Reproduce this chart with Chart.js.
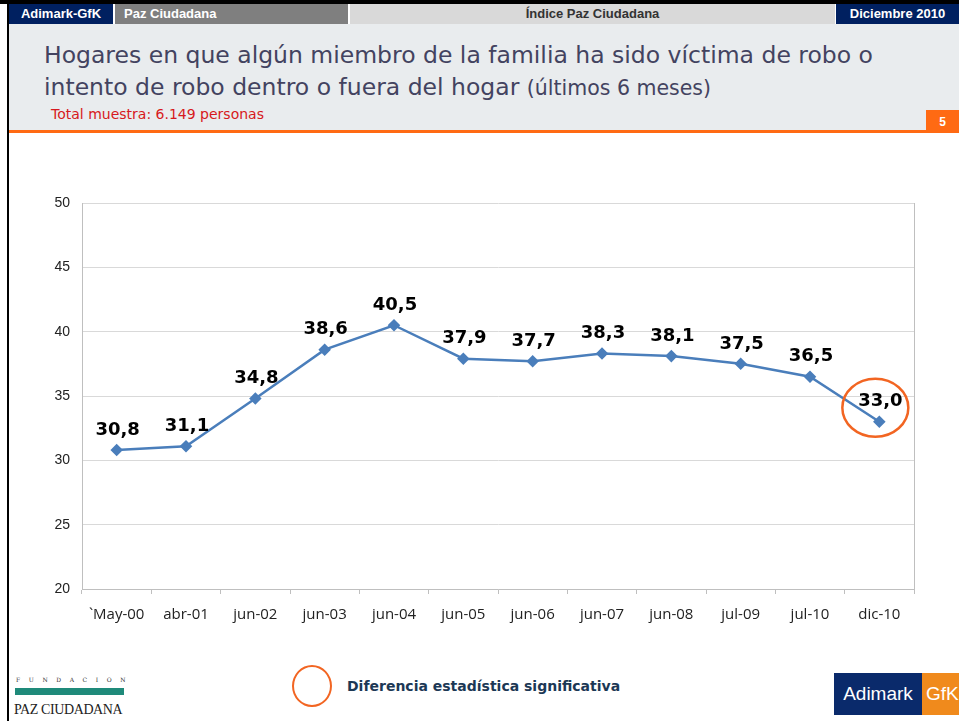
<!DOCTYPE html>
<html>
<head>
<meta charset="utf-8">
<script src="https://cdn.jsdelivr.net/npm/chart.js@4"></script>
<style>
  body { margin: 0; width: 959px; height: 721px; background: #fff; position: relative; overflow: hidden; font-family: "Liberation Sans", Arial, sans-serif; }
  .abs { position: absolute; }
  #topline { left: 0; top: 0; width: 959px; height: 4px; background: #000; }
  #leftline { left: 7px; top: 0; width: 2px; height: 721px; background: #000; }
  .hdr { top: 4px; height: 20px; line-height: 20px; font-size: 13px; font-weight: bold; }
  #band { left: 9px; top: 24px; width: 950px; height: 106px; background: #e9ecee; }
  #orange { left: 9px; top: 130px; width: 950px; height: 3px; background: #ff6a13; }
  #title { left: 44px; top: 39px; font-family: "DejaVu Sans", sans-serif; font-size: 23.5px; color: #434360; line-height: 32px; }
  #title small { font-size: 20.5px; }
  #sub { left: 51px; top: 106px; font-family: "DejaVu Sans", sans-serif; font-size: 14px; color: #d71920; }
  #pg { left: 926px; top: 110px; width: 33px; height: 23px; background: #ff6a13; color: #fff; font-weight: bold; font-size: 12px; text-align: center; line-height: 24px; }
  #chartbox { left: 10px; top: 140px; width: 949px; height: 505px; }
  #legcirc { left: 292px; top: 665px; width: 40px; height: 42px; border: 2.5px solid #f26522; border-radius: 50%; box-sizing: border-box; }
  #legtxt { left: 347px; top: 678px; font-family: "DejaVu Sans", sans-serif; font-size: 14px; font-weight: bold; color: #1c3855; }
</style>
</head>
<body>
<div class="abs" id="topline"></div>
<div class="abs" id="leftline"></div>
<div class="abs hdr" style="left:9px;width:104px;background:#002060;color:#fff;text-align:center;">Adimark-GfK</div>
<div class="abs hdr" style="left:115px;width:233px;background:#7f7f7f;color:#fff;padding-left:9px;box-sizing:border-box;">Paz Ciudadana</div>
<div class="abs hdr" style="left:350px;width:485px;background:#d9d9d9;color:#333;text-align:center;">Índice Paz Ciudadana</div>
<div class="abs hdr" style="left:836px;width:123px;background:#002060;color:#fff;text-align:center;">Diciembre 2010</div>
<div class="abs" id="band"></div>
<div class="abs" id="orange"></div>
<div class="abs" id="title">Hogares en que algún miembro de la familia ha sido víctima de robo o<br>intento de robo dentro o fuera del hogar <small>(últimos 6 meses)</small></div>
<div class="abs" id="sub">Total muestra: 6.149 personas</div>
<div class="abs" id="pg">5</div>
<div class="abs" id="chartbox"><canvas id="grafico" width="949" height="505"></canvas></div>
<div class="abs" id="legcirc"></div>
<div class="abs" id="legtxt">Diferencia estadística significativa</div>

<!-- logos -->
<div class="abs" style="left:16px;top:676px;width:112px;font-family:'DejaVu Serif',serif;font-size:6px;letter-spacing:8.6px;color:#333;">FUNDACION</div>
<div class="abs" style="left:15px;top:688px;width:109px;height:7px;background:#1f8a7a;"></div>
<div class="abs" style="left:14px;top:702px;font-family:'Liberation Serif',serif;font-size:14px;color:#222;letter-spacing:-0.4px;">PAZ CIUDADANA</div>
<div class="abs" style="left:834px;top:673px;width:88px;height:42px;background:#0a2a6b;color:#fff;font-size:19px;line-height:42px;text-align:center;">Adimark</div>
<div class="abs" style="left:922px;top:673px;width:37px;height:42px;background:#f08a1c;color:#fff;font-size:19px;line-height:42px;padding-left:4px;box-sizing:border-box;">GfK</div>

<script>
const meses = ["`May-00", "abr-01", "jun-02", "jun-03", "jun-04", "jun-05", "jun-06", "jun-07", "jun-08", "jul-09", "jul-10", "dic-10"];
const victimas = [30.8, 31.1, 34.8, 38.6, 40.5, 37.9, 37.7, 38.3, 38.1, 37.5, 36.5, 33.0];
const yTicks = [20, 25, 30, 35, 40, 45, 50];
const significativos = [11]; // index of points with significant difference

const ctx = document.getElementById("grafico").getContext("2d");

// value labels above each point + orange circle on significant ones
const etiquetas = {
  id: "etiquetas",
  afterDatasetsDraw(chart) {
    const { ctx } = chart;
    const meta = chart.getDatasetMeta(0);
    ctx.save();
    ctx.font = "bold 18px 'DejaVu Sans', sans-serif";
    ctx.fillStyle = "#000";
    ctx.textAlign = "center";
    ctx.textBaseline = "middle";
    meta.data.forEach((pt, i) => {
      const txt = victimas[i].toFixed(1).replace(".", ",");
      ctx.fillText(txt, pt.x + 1, pt.y - 20);
    });
    significativos.forEach((i) => {
      const pt = meta.data[i];
      ctx.beginPath();
      ctx.ellipse(pt.x - 4, pt.y - 14, 33, 29, 0, 0, Math.PI * 2);
      ctx.strokeStyle = "#f26522";
      ctx.lineWidth = 2.5;
      ctx.stroke();
    });
    ctx.restore();
  },
};

const grafico = new Chart(ctx, {
  type: "line",
  data: {
    labels: meses,
    datasets: [
      {
        data: victimas,
        borderColor: "#4a7ebb",
        backgroundColor: "#4a7ebb",
        borderWidth: 2.5,
        pointStyle: "rectRot",
        pointRadius: 4.5,
        pointBackgroundColor: "#4a7ebb",
        pointBorderColor: "#4a7ebb",
        tension: 0,
        fill: false,
      },
    ],
  },
  options: {
    responsive: false,
    animation: false,
    layout: { padding: { top: 63, right: 45, bottom: 0, left: 0 } },
    plugins: {
      legend: { display: false },
      tooltip: { enabled: false },
    },
    scales: {
      x: {
        offset: true,
        grid: { offset: true, drawOnChartArea: false, tickLength: 5, color: "#bfbfbf" },
        border: { color: "#bfbfbf" },
        ticks: { color: "#222", padding: 12, font: { family: "'Open Sans', sans-serif", size: 15 } },
        afterFit(scale) { scale.height = 56; },
      },
      y: {
        min: 20,
        max: 50,
        afterBuildTicks(scale) { scale.ticks = yTicks.map((v) => ({ value: v })); },
        grid: { color: "#d9d9d9", drawTicks: false },
        border: { color: "#bfbfbf" },
        ticks: { color: "#222", padding: 12, font: { family: "'Liberation Sans', Arial, sans-serif", size: 14 } },
        afterFit(scale) { scale.width = 72; },
      },
      y2: {
        position: "right",
        min: 20,
        max: 50,
        grid: { drawOnChartArea: false, drawTicks: false },
        border: { color: "#bfbfbf" },
        ticks: { display: false },
        afterFit(scale) { scale.width = 0; },
      },
    },
  },
  plugins: [etiquetas],
});
</script>
</body>
</html>
